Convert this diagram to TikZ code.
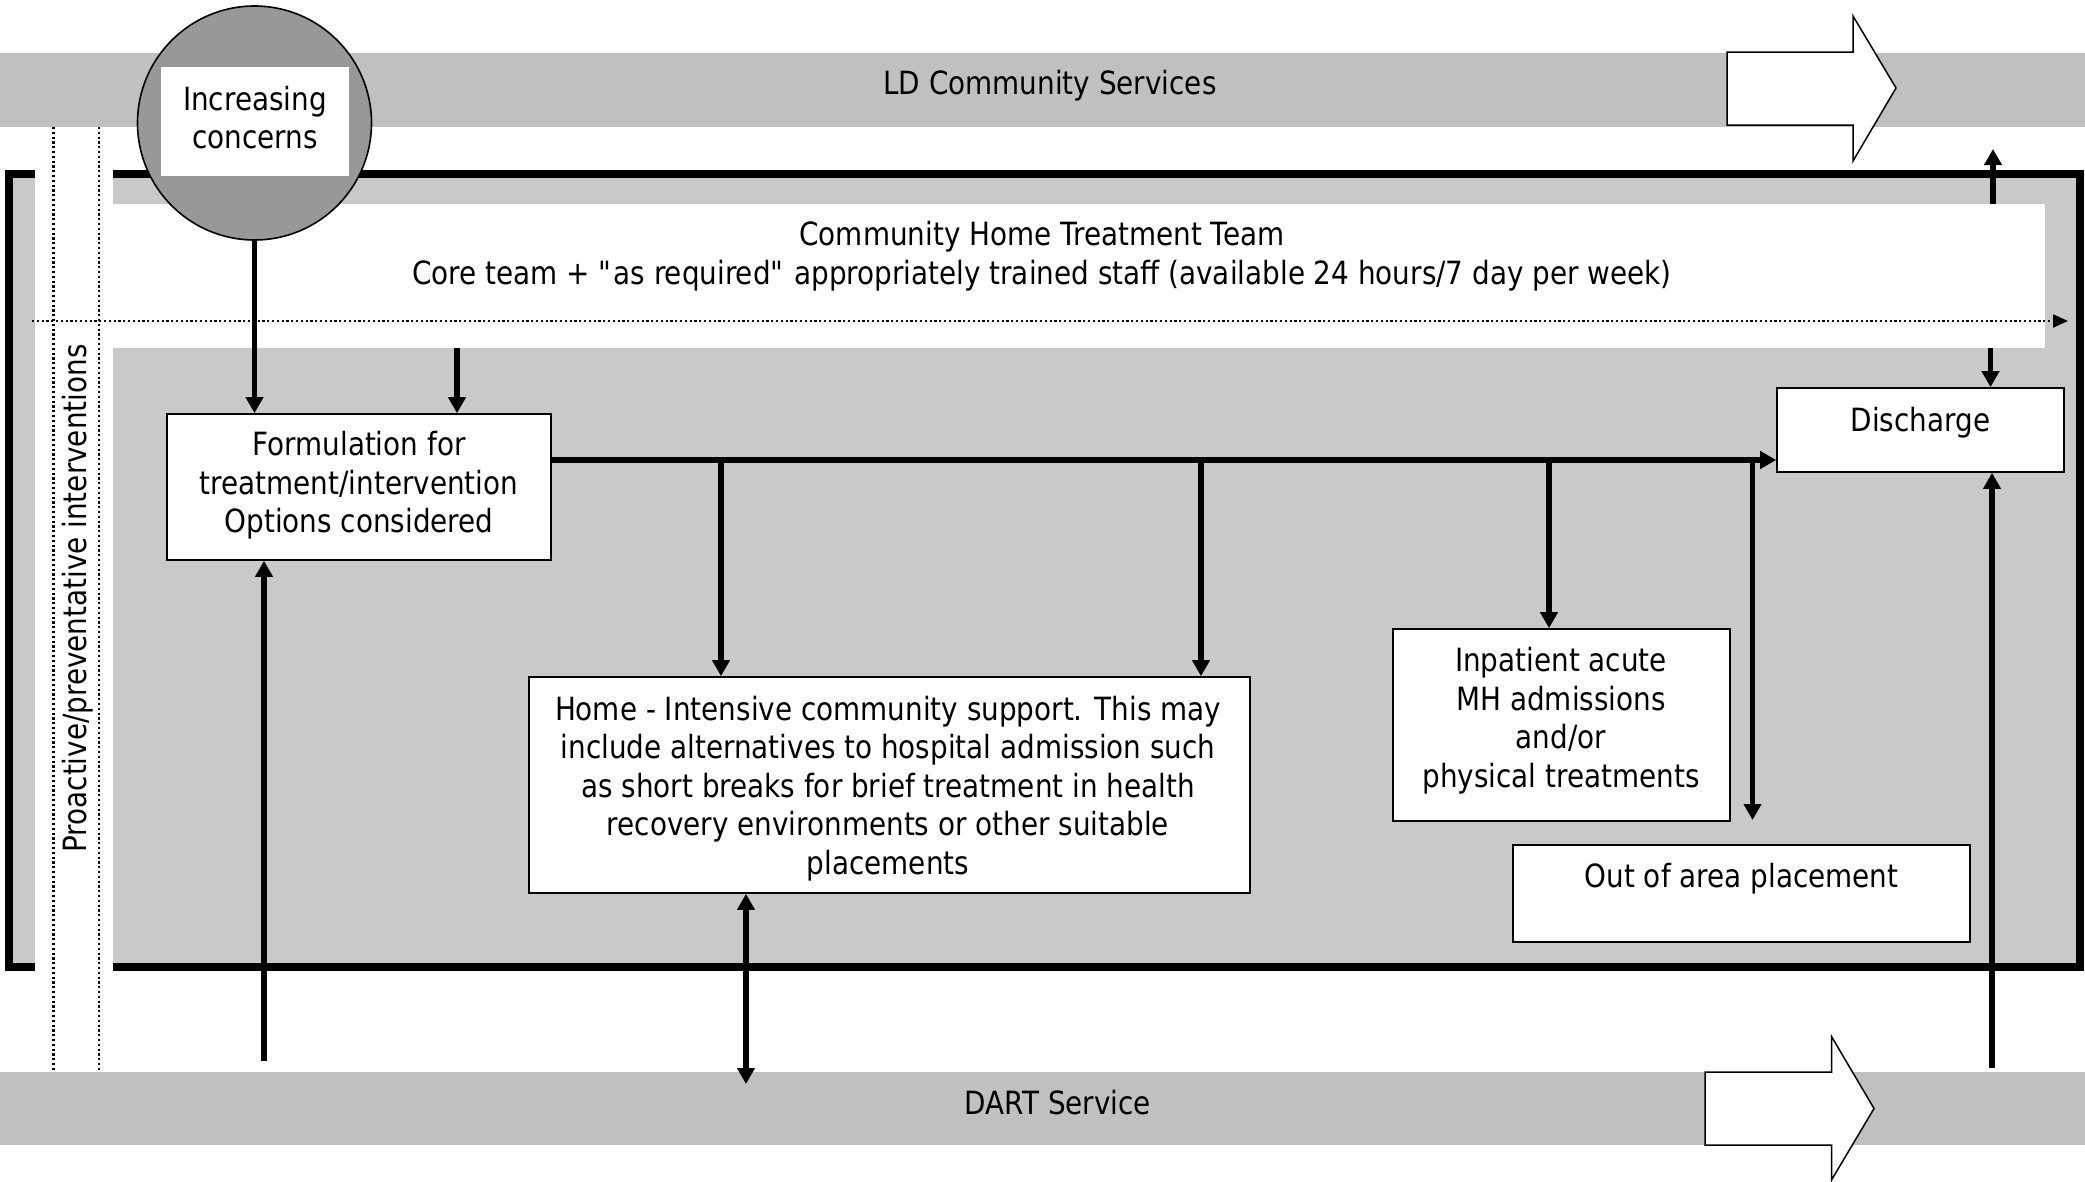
\documentclass[tikz,border=0pt]{standalone}
\usepackage{fontspec}
\setmainfont{DejaVu Sans}[FakeStretch=0.87]
\usetikzlibrary{arrows.meta}
\newcommand\straightdq{\XeTeXglyph\XeTeXglyphindex "quotedbl"\relax}
\definecolor{bandgray}{RGB}{192,192,192}
\definecolor{fillgray}{RGB}{201,201,201}
\definecolor{circgray}{RGB}{152,152,152}
\begin{document}
\begin{tikzpicture}[x=1pt,y=-1pt,
  txt/.style={font=\fontsize{32}{38.6}\selectfont, align=center, inner sep=0pt},
  box/.style={draw, line width=1.6pt, fill=white, inner sep=0pt},
  arr/.style={line width=5.7pt, -{Triangle[width=17pt,length=16pt]}},
  dblarr/.style={line width=5.7pt, {Triangle[width=17pt,length=16pt]}-{Triangle[width=17pt,length=16pt]}},
  dotline/.style={line width=2.2pt, dash pattern=on 2.2pt off 2.6pt},
  blockarr/.style={draw, fill=white, line width=1.5pt, line join=miter}
]
\useasboundingbox (0,0) rectangle (2085,1181);
% service bands
\fill[bandgray] (0,53) rectangle (2085,127);
\fill[bandgray] (0,1072) rectangle (2085,1145);
\node[txt] (ld) at (1050,85.5) {LD Community Services};
\node[txt] (dart) at (1058,1103) {DART Service};
% block arrows
\draw[blockarr] (1727,52) -- (1853,52) -- (1853,16) -- (1896,88) -- (1853,161) -- (1853,125) -- (1727,125) -- cycle;
\draw[blockarr] (1705,1072) -- (1831.5,1072) -- (1831.5,1036.5) -- (1874,1108.5) -- (1831.5,1180) -- (1831.5,1145) -- (1705,1145) -- cycle;
% frame area
\fill[fillgray] (9,174) rectangle (2079.5,967);
\node[fill=white, inner sep=0pt, minimum width=2010pt, minimum height=144pt] (chtt) at (1040,276) {};
\node[txt] (chttT) at (1042,256) {Community Home Treatment Team\\Core team + \straightdq as required\straightdq{} appropriately trained staff (available 24 hours/7 day per week)};
\fill[white] (35,127) rectangle (113,1072);
\draw[line width=8pt] (35,174) -| (9,967) -- (35,967);
\draw[line width=8pt] (113,174) -| (2079.5,967) -- (113,967);
% proactive column
\draw[dotline] (53.5,127) -- (53.5,1072);
\draw[dotline] (99,127) -- (99,1072);
\node[txt, rotate=90] (pro) at (77.5,598.5) {Proactive/preventative interventions};
\coordinate (dotstart) at (32,321);
\coordinate (dotend) at (2068,321);
\draw[dotline, -{Triangle[width=13pt,length=15pt]}] (dotstart) -- (dotend);
% increasing concerns
\node[circle, draw, line width=1.6pt, fill=circgray, minimum size=234pt, inner sep=0pt] (conc) at (254.5,123) {};
\node[fill=white, inner sep=0pt, minimum width=188pt, minimum height=109pt] (concbox) at (255,121.5) {};
\node[txt] (concT) at (255,117.5) {Increasing\\concerns};
% boxes
\node[box, minimum width=384pt, minimum height=146pt] (form) at (359,487) {};
\node[txt] (formT) at (359,485.5) {Formulation for\\treatment/intervention\\Options considered};
\node[box, minimum width=721pt, minimum height=216pt] (home) at (889.5,785) {};
\node[txt] (homeT) at (888,788.5) {Home - Intensive community support. This may\\include alternatives to hospital admission such\\as short breaks for brief treatment in health\\recovery environments or other suitable\\placements};
\node[box, minimum width=337pt, minimum height=192pt] (inpat) at (1561.5,725) {};
\node[txt] (inpatT) at (1561,720.5) {Inpatient acute\\MH admissions\\and/or\\physical treatments};
\node[box, minimum width=457pt, minimum height=97pt] (outarea) at (1741.5,893.5) {};
\node[txt] (outareaT) at (1741.5,878.5) {Out of area placement};
\node[box, minimum width=287pt, minimum height=84pt] (disch) at (1920.5,430) {};
\node[txt] (dischT) at (1920.5,422.5) {Discharge};
% connectors
\coordinate (c457) at (457,0);
\coordinate (trunk) at (0,460);
\coordinate (bx1) at (721,460);
\coordinate (bx2) at (1201,460);
\coordinate (bx3) at (1549,460);
\coordinate (bx4) at (1752.5,460);
\coordinate (oaend) at (1752.5,820);
\coordinate (ldtip) at (1993,149);
\coordinate (dx) at (1990.5,0);
\coordinate (dartd) at (1992,1068);
\coordinate (dartf) at (264,1061);
\coordinate (darth) at (746,1084);
\draw[arr] (conc.south) -- (conc.south |- form.north);
\draw[arr] (chtt.south -| c457) -- (form.north -| c457);
\draw[arr] (form.east |- trunk) -- (disch.west |- trunk);
\draw[arr] (bx1) -- (bx1 |- home.north);
\draw[arr] (bx2) -- (bx2 |- home.north);
\draw[arr] (bx3) -- (bx3 |- inpat.north);
\draw[arr] (bx4) -- (oaend);
\draw[arr] (ldtip |- chtt.north) -- (ldtip);
\draw[arr] (chtt.south -| dx) -- (disch.north -| dx);
\draw[arr] (dartd) -- (dartd |- disch.south);
\draw[arr] (dartf) -- (dartf |- form.south);
\draw[dblarr] (darth |- home.south) -- (darth);
\end{tikzpicture}
\end{document}
